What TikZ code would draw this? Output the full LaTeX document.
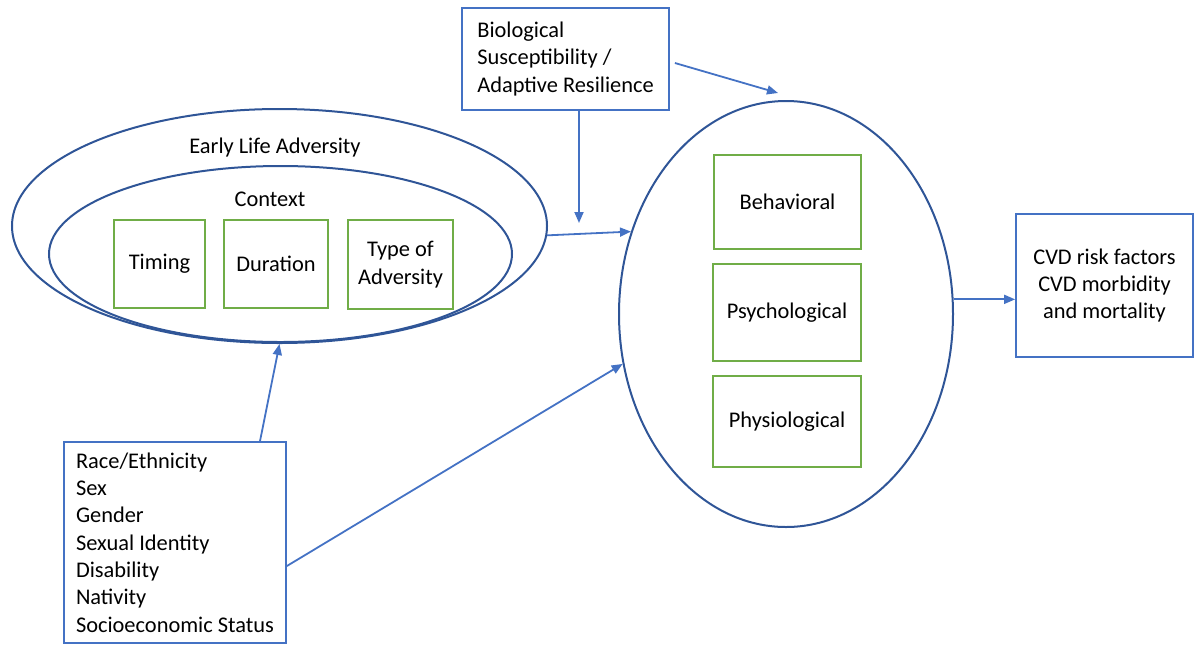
\documentclass[tikz,border=0pt]{standalone}
\usepackage{fontspec}
\setmainfont{Carlito}
\usetikzlibrary{shapes.geometric,arrows.meta}
\definecolor{ellblue}{HTML}{2F5597}
\definecolor{boxblue}{HTML}{4472C4}
\definecolor{arrblue}{HTML}{4472C4}
\definecolor{grn}{HTML}{70AD47}
\begin{document}
\begin{tikzpicture}[x=1pt,y=-1pt,
  every node/.style={font=\fontsize{22.4}{27.3}\selectfont},
  ell/.style={draw=ellblue, line width=2pt, ellipse, inner sep=0pt},
  gbox/.style={draw=grn, line width=1.6pt, align=center, inner sep=0pt},
  bbox/.style={draw=boxblue, line width=1.8pt, inner sep=0pt},
  conn/.style={draw=arrblue, line width=1.8pt, -{Triangle[length=11pt,width=9pt]}}]
\useasboundingbox (0,0) rectangle (1196,646);
% ellipses
\node[ell, minimum width=535pt, minimum height=234pt] (outer) at (279.5,226) {};
\node[ell, minimum width=463pt, minimum height=176pt] (inner) at (280.5,254) {};
\node[ell, minimum width=334pt, minimum height=426pt] (big) at (786,314) {};
\node (ela) at (275,148) {Early Life Adversity};
\node (ctx) at (270,199) {Context};
% green boxes
\node[gbox, minimum width=91pt, minimum height=88pt] (timing) at (159.5,264) {Timing};
\node[gbox, minimum width=104pt, minimum height=88pt] (duration) at (276,264) {Duration};
\node[gbox, minimum width=105pt, minimum height=89pt] (type) at (400.5,264.5) {Type of\\Adversity};
\node[gbox, minimum width=147pt, minimum height=94pt] (beh) at (787.5,202) {Behavioral};
\node[gbox, minimum width=148pt, minimum height=97pt] (psy) at (787,312.5) {Psychological};
\node[gbox, minimum width=148pt, minimum height=91pt] (phy) at (787,421.5) {Physiological};
% blue boxes
\node[bbox, minimum width=207pt, minimum height=102pt, align=left] (bio) at (565.5,59)
  {Biological\\Susceptibility /\\Adaptive Resilience};
\node[bbox, minimum width=222pt, minimum height=201pt, align=left] (race) at (175,542.5)
  {Race/Ethnicity\\Sex\\Gender\\Sexual Identity\\Disability\\Nativity\\Socioeconomic Status};
\node[bbox, minimum width=177pt, minimum height=143pt, align=center] (cvd) at (1104.5,285.5)
  {CVD risk factors\\CVD morbidity\\and mortality};
% connectors
\coordinate (bioTip) at (778,93);
\coordinate (modTip) at (579,223);
\draw[conn] ([xshift=5pt,yshift=-4pt]bio.east) -- (bioTip);
\draw[conn] ([xshift=13.5pt]bio.south) -- (modTip);
\draw[conn] (outer.-2) -- (big.152);
\draw[conn] ([xshift=85pt]race.north) -- (outer.south);
\draw[conn] ([yshift=-23.5pt]race.east) -- (big.197);
\draw[conn] (big.5) -- (big.5 -| cvd.west);
\end{tikzpicture}
\end{document}
